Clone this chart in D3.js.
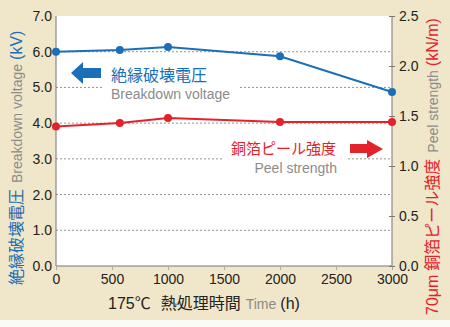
<!DOCTYPE html>
<html><head><meta charset="utf-8">
<script src="https://cdn.jsdelivr.net/npm/d3@7"></script>
<style>
html,body{margin:0;padding:0;background:#fafaf7;}
svg{display:block;}
text{font-family:"Liberation Sans","Noto Sans CJK JP",sans-serif;}
.cjk{font-family:"Noto Sans CJK JP",sans-serif;}
</style></head>
<body>
<svg id="c" width="450" height="327"></svg>
<script>
const hours = [0, 570, 1000, 2000, 3000];
const breakdown = [6.0, 6.05, 6.13, 5.87, 4.87];
const peel = [1.395, 1.43, 1.48, 1.44, 1.44];
const xTicks = [0, 500, 1000, 1500, 2000, 2500, 3000];
const yLeftTicks = [0,1,2,3,4,5,6,7];
const yRightTicks = [0,0.5,1,1.5,2,2.5];

const BLUE = "#1a6fb8", RED = "#e4222b", GREY = "#8c8c8c", BEIGE = "#f0e6c9";
const svg = d3.select("#c");
const L = 56, R = 392, T = 16, B = 266;

svg.append("rect").attr("x",0).attr("y",0).attr("width",450).attr("height",320).attr("fill",BEIGE);
svg.append("rect").attr("x",L).attr("y",T).attr("width",R-L).attr("height",B-T).attr("fill","#fff");

const x = d3.scaleLinear().domain([0,3000]).range([L,R]);
const yL = d3.scaleLinear().domain([0,7]).range([B,T]);
const yR = d3.scaleLinear().domain([0,2.5]).range([B,T]);

// gridlines
svg.append("g").selectAll("line").data([1,2,3,4,5,6]).join("line")
  .attr("x1",L).attr("x2",R).attr("y1",d=>yL(d)).attr("y2",d=>yL(d))
  .attr("stroke","#777").attr("stroke-width",0.8).attr("stroke-dasharray","2,2");

// white boxes behind labels
svg.append("rect").attr("x",102).attr("y",62).attr("width",136).attr("height",42).attr("fill","#fff");
svg.append("rect").attr("x",222).attr("y",136).attr("width",126).attr("height",40).attr("fill","#fff");

// axes frame
const frame = svg.append("g").attr("stroke","#777").attr("stroke-width",1).attr("fill","none");
frame.append("line").attr("x1",L).attr("x2",L).attr("y1",T).attr("y2",B);
frame.append("line").attr("x1",R).attr("x2",R).attr("y1",T).attr("y2",B);
frame.append("line").attr("x1",L).attr("x2",R).attr("y1",B).attr("y2",B);

// x axis
const xa = svg.append("g").attr("transform",`translate(0,${B})`)
  .call(d3.axisBottom(x).tickValues(xTicks).tickSize(4).tickPadding(4).tickFormat(d3.format("d")));
xa.select(".domain").remove();
xa.selectAll("line").attr("stroke","#aaa");
xa.selectAll("text").attr("font-size",14).attr("fill","#222").attr("font-family","Liberation Sans, sans-serif");

// left axis
const ya = svg.append("g").attr("transform",`translate(${L},0)`)
  .call(d3.axisLeft(yL).tickValues(yLeftTicks).tickSize(0).tickPadding(4).tickFormat(d3.format(".1f")));
ya.select(".domain").remove();
ya.selectAll("text").attr("font-size",14).attr("fill","#222").attr("font-family","Liberation Sans, sans-serif");

// right axis
const yra = svg.append("g").attr("transform",`translate(${R},0)`)
  .call(d3.axisRight(yR).tickValues(yRightTicks).tickSizeInner(3).tickSizeOuter(0).tickPadding(4).tickFormat(d3.format(".1f")));
yra.select(".domain").remove();
yra.selectAll("line").attr("stroke","#777").attr("x1",-3);
yra.selectAll("text").attr("font-size",14).attr("fill","#222").attr("font-family","Liberation Sans, sans-serif");

// series
const lineL = d3.line().x((d,i)=>x(hours[i])).y(d=>yL(d));
const lineR = d3.line().x((d,i)=>x(hours[i])).y(d=>yR(d));
svg.append("path").attr("d",lineR(peel)).attr("fill","none").attr("stroke",RED).attr("stroke-width",2);
svg.append("g").selectAll("circle").data(peel).join("circle")
  .attr("cx",(d,i)=>x(hours[i])).attr("cy",d=>yR(d)).attr("r",4).attr("fill",RED);
svg.append("path").attr("d",lineL(breakdown)).attr("fill","none").attr("stroke",BLUE).attr("stroke-width",2);
svg.append("g").selectAll("circle").data(breakdown).join("circle")
  .attr("cx",(d,i)=>x(hours[i])).attr("cy",d=>yL(d)).attr("r",4).attr("fill",BLUE);

// arrows
svg.append("path").attr("d","M71,73 L83,62 L83,68 L101,68 L101,78 L83,78 L83,84 Z").attr("fill",BLUE);
svg.append("path").attr("d","M383,149 L367,140 L367,144 L350,144 L350,153 L367,153 L367,158 Z").attr("fill",RED);

// in-plot labels
svg.append("text").attr("class","cjk").attr("x",111).attr("y",81).attr("font-size",16).attr("fill",BLUE).text("絶縁破壊電圧");
svg.append("text").attr("x",111).attr("y",99).attr("font-size",14).attr("fill",GREY).text("Breakdown voltage");
svg.append("text").attr("class","cjk").attr("x",336).attr("y",154).attr("text-anchor","end").attr("font-size",15).attr("fill",RED).text("銅箔ピール強度");
svg.append("text").attr("x",337).attr("y",173).attr("text-anchor","end").attr("font-size",14).attr("fill",GREY).text("Peel strength");

// left axis title
const lt = svg.append("text").attr("transform","translate(22,285) rotate(-90)").attr("font-size",16);
lt.append("tspan").attr("class","cjk").attr("fill",BLUE).text("絶縁破壊電圧");
lt.append("tspan").attr("fill",GREY).attr("font-size",14).attr("dx",6).text("Breakdown voltage");
lt.append("tspan").attr("fill",BLUE).attr("dx",4).text("(kV)");

// right axis title
const rt = svg.append("text").attr("transform","translate(438,315) rotate(-90)").attr("font-size",16);
rt.append("tspan").attr("fill",RED).text("70μm");
rt.append("tspan").attr("class","cjk").attr("fill",RED).attr("dx",4).text("銅箔ピール強度");
rt.append("tspan").attr("fill",GREY).attr("font-size",14).attr("dx",6).text("Peel strength");
rt.append("tspan").attr("fill",RED).attr("dx",4).text("(kN/m)");

// x title
const xt = svg.append("text").attr("x",108).attr("y",309).attr("font-size",16).attr("fill","#222");
xt.append("tspan").text("175℃");
xt.append("tspan").attr("class","cjk").attr("dx",10).text("熱処理時間");
xt.append("tspan").attr("fill",GREY).attr("font-size",14).attr("dx",5).text("Time");
xt.append("tspan").attr("dx",4).text("(h)");
</script>
</body></html>
